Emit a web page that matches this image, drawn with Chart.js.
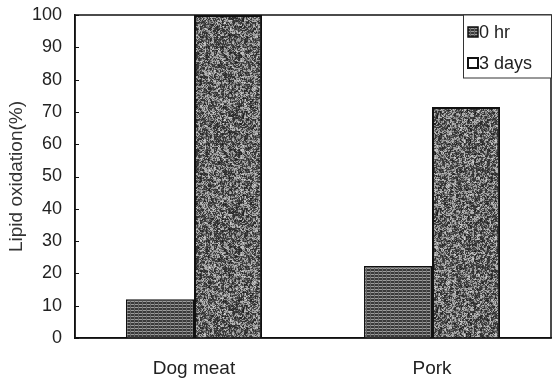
<!DOCTYPE html>
<html>
<head>
<meta charset="utf-8">
<script src="https://cdn.jsdelivr.net/npm/chart.js@4"></script>
<style>
  html, body { margin: 0; padding: 0; background: #fff; }
  #wrap { width: 554px; height: 387px; }
</style>
</head>
<body>
<div id="wrap"><canvas id="chart"></canvas></div>
<script>
// Data
const categories = ['Dog meat', 'Pork'];
const hr0Values = [12, 22.3];
const days3Values = [100, 71.5];
const seriesNames = ['0 hr', '3 days'];
const yMin = 0, yMax = 100, yStep = 10;

const FONT = "'Liberation Sans', Arial, sans-serif";

// Fine dark grid texture for "0 hr"
function makeGridPattern(ctx) {
  const c = document.createElement('canvas');
  c.width = 4; c.height = 3;
  const g = c.getContext('2d');
  g.fillStyle = '#3a3a3a';
  g.fillRect(0, 0, 4, 3);
  g.fillStyle = '#9c9c9c';
  g.fillRect(0, 1, 4, 1);
  g.fillStyle = '#666';
  g.fillRect(2, 0, 1, 3);
  return ctx.createPattern(c, 'repeat');
}

// Speckled texture for "3 days" (deterministic hash, no randomness)
function hash(x, y, s) {
  let h = (x * 374761393 + y * 668265263 + s * 982451653) | 0;
  h = Math.imul(h ^ (h >>> 13), 1274126177);
  h = (h ^ (h >>> 16)) >>> 0;
  return (h % 10000) / 10000;
}
function makeStipplePattern(ctx) {
  const size = 97;
  const c = document.createElement('canvas');
  c.width = size; c.height = size;
  const g = c.getContext('2d');
  const img = g.createImageData(size, size);
  for (let y = 0; y < size; y++) {
    for (let x = 0; x < size; x++) {
      const fine = hash(x, y, 1);
      const mid = hash(x >> 1, y >> 1, 3);
      const clump = hash((x + 1) / 3 | 0, (y + 2) / 3 | 0, 5);
      const n = fine * 0.45 + mid * 0.35 + clump * 0.2;
      let v;
      if (n < 0.45) v = 20 + n * 110;
      else if (n < 0.6) v = 70 + (n - 0.45) * 500;
      else v = 145 + (n - 0.6) * 200;
      const i = (y * size + x) * 4;
      img.data[i] = img.data[i + 1] = img.data[i + 2] = Math.min(235, v);
      img.data[i + 3] = 255;
    }
  }
  g.putImageData(img, 0, 0);
  return ctx.createPattern(c, 'repeat');
}

const canvas = document.getElementById('chart');
const ctx = canvas.getContext('2d');
const gridFill = makeGridPattern(ctx);
const stippleFill = makeStipplePattern(ctx);

// Frame, inward ticks and the boxed legend
const framePlugin = {
  id: 'framePlugin',
  afterDraw(chart) {
    const c = chart.ctx;
    const a = chart.chartArea;
    const yScale = chart.scales.y;
    c.save();
    c.strokeStyle = '#111';
    c.lineWidth = 1.5;
    c.strokeRect(a.left, a.top, a.right - a.left, a.bottom - a.top);

    // short ticks pointing into the plot
    c.lineWidth = 1;
    yScale.ticks.forEach(function(t) {
      const py = Math.round(yScale.getPixelForValue(t.value)) + 0.5;
      c.beginPath();
      c.moveTo(a.left, py);
      c.lineTo(a.left + 4, py);
      c.stroke();
    });

    // legend box
    const bx = 463, by = a.top, bw = a.right - 463, bh = 63;
    c.fillStyle = '#fff';
    c.fillRect(bx, by, bw, bh);
    c.strokeStyle = '#333';
    c.lineWidth = 1;
    c.strokeRect(bx + 0.5, by, bw, bh);

    c.font = '18px ' + FONT;
    c.textBaseline = 'middle';
    c.textAlign = 'left';
    const rows = [by + 17, by + 48];
    // 0 hr icon
    c.fillStyle = gridFill;
    c.fillRect(468, rows[0] - 5, 10, 10);
    c.strokeStyle = '#111';
    c.lineWidth = 1.5;
    c.strokeRect(468, rows[0] - 5, 10, 10);
    // 3 days icon
    c.fillStyle = '#fff';
    c.fillRect(468, rows[1] - 5, 10, 10);
    c.lineWidth = 2;
    c.strokeRect(468, rows[1] - 5, 10, 10);

    c.fillStyle = '#222';
    c.fillText(seriesNames[0], 479, rows[0] + 1);
    c.fillText(seriesNames[1], 479, rows[1] + 1);
    c.restore();
  }
};

new Chart(canvas, {
  type: 'bar',
  data: {
    labels: categories,
    datasets: [
      {
        label: seriesNames[0],
        data: hr0Values,
        backgroundColor: gridFill,
        borderColor: '#111',
        borderWidth: 1.5
      },
      {
        label: seriesNames[1],
        data: days3Values,
        backgroundColor: stippleFill,
        borderColor: '#111',
        borderWidth: 2
      }
    ]
  },
  options: {
    responsive: true,
    maintainAspectRatio: false,
    animation: false,
    layout: {
      padding: { top: 15, right: 3, left: 0, bottom: 0 }
    },
    plugins: {
      legend: { display: false },
      tooltip: { enabled: false }
    },
    datasets: {
      bar: {
        categoryPercentage: 0.572,
        barPercentage: 1
      }
    },
    scales: {
      x: {
        grid: { display: false, drawTicks: false },
        border: { display: true, color: '#111', width: 1.5 },
        ticks: {
          color: '#222',
          padding: 19,
          font: { family: FONT, size: 19 }
        },
        afterFit: function(scale) { scale.height = 49; }
      },
      y: {
        min: yMin,
        max: yMax,
        grid: { display: false, drawTicks: false },
        border: { display: true, color: '#111', width: 1.5 },
        ticks: {
          stepSize: yStep,
          color: '#222',
          padding: 13,
          font: { family: FONT, size: 18 }
        },
        title: {
          display: true,
          text: 'Lipid oxidation(%)',
          color: '#333',
          padding: { top: 5, bottom: 0 },
          font: { family: FONT, size: 19 }
        },
        afterFit: function(scale) {
          scale.width = 75;
          scale.paddingTop = 0;
          scale.paddingBottom = 0;
        }
      }
    }
  },
  plugins: [framePlugin]
});
</script>
</body>
</html>
